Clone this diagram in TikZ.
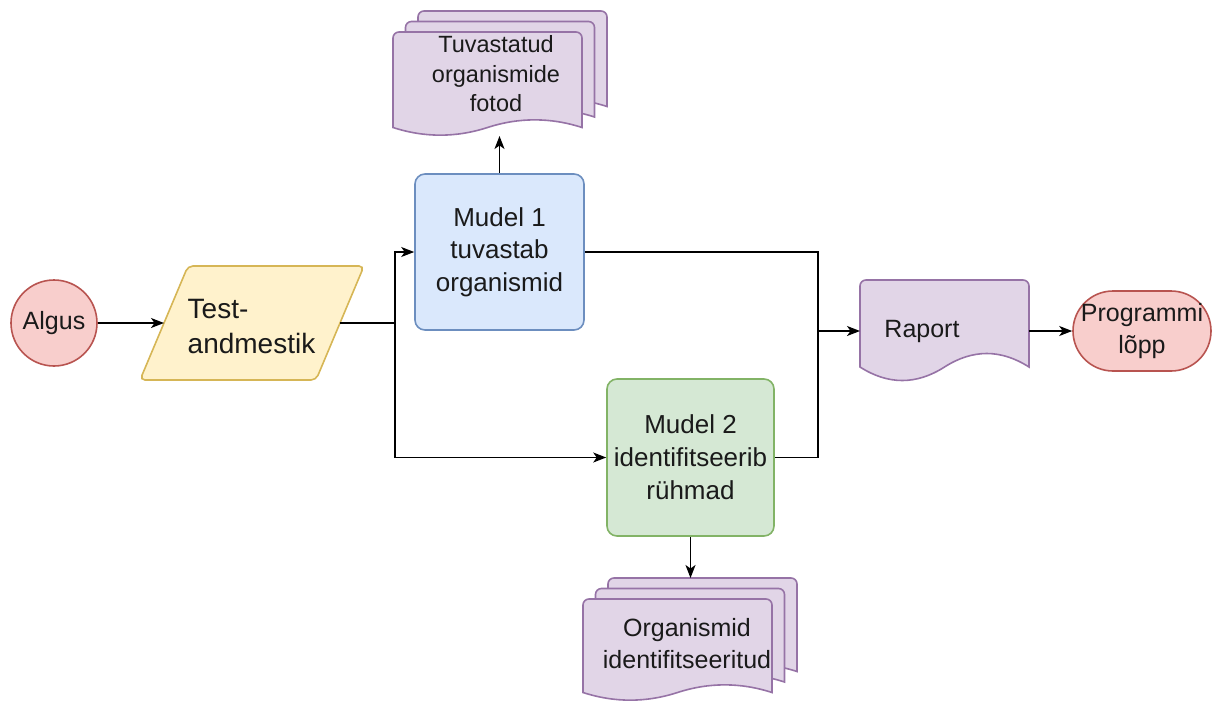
\documentclass[tikz,border=0pt]{standalone}
\usepackage{fontspec}
\setmainfont{Liberation Sans}
\usetikzlibrary{arrows.meta}
\definecolor{redF}{HTML}{F8CECC}\definecolor{redS}{HTML}{B85450}
\definecolor{yelF}{HTML}{FFF2CC}\definecolor{yelS}{HTML}{D6B656}
\definecolor{bluF}{HTML}{DAE8FC}\definecolor{bluS}{HTML}{6C8EBF}
\definecolor{grnF}{HTML}{D5E8D4}\definecolor{grnS}{HTML}{82B366}
\definecolor{purF}{HTML}{E1D5E7}\definecolor{purS}{HTML}{9673A6}
\definecolor{txt}{HTML}{1A1A1A}
\newcommand\docpath[5]{% x y w h dy
  \filldraw[purpleshape] (#1,{#2+#4-0.5*#5}) [rounded corners=6pt] -- (#1,#2) -- ({#1+#3},#2) [sharp corners] -- ({#1+#3},{#2+#4-0.5*#5})
    .. controls ({#1+5*#3/6},{#2+#4-1.1*#5}) and ({#1+2*#3/3},{#2+#4-1.1*#5}) .. ({#1+#3/2},{#2+#4-0.5*#5})
    .. controls ({#1+#3/3},{#2+#4+0.1*#5}) and ({#1+#3/6},{#2+#4+0.1*#5}) .. (#1,{#2+#4-0.5*#5}) -- cycle;}
\begin{document}
\begin{tikzpicture}[x=1pt,y=-1pt,
  shapeline/.style={line width=1.6pt},
  purpleshape/.style={shapeline,fill=purF,draw=purS},
  ghost/.style={draw=none,fill=none,inner sep=0pt,outer sep=0pt,rectangle},
  lbl/.style={text=txt,align=center,inner sep=0pt},
  conn/.style={line width=1.3pt,draw=black},
  arr/.style={conn,-{Stealth[length=13pt,width=10pt,inset=3.5pt]}},
  fs25/.style={font=\fontsize{25}{31.5}\selectfont},
]
\useasboundingbox (0,0) rectangle (1213,702);
% Algus
\node[circle,shapeline,fill=redF,draw=redS,minimum size=86pt,inner sep=0pt,text=txt,fs25] (algus) at (54,323) {Algus};
% Test-andmestik (parallelogram)
\node[ghost,minimum width=176pt,minimum height=114pt] (test) at (252,323) {};
\filldraw[shapeline,fill=yelF,draw=yelS,rounded corners=5pt]
  ([xshift=24pt]test.north west) -- ([xshift=24pt]test.north east) -- ([xshift=-24pt]test.south east) -- ([xshift=-24pt]test.south west) -- cycle;
\node[lbl,align=left,font=\fontsize{28}{35}\selectfont] (testtxt) at (251.5,326) {Test-\\andmestik};
% Mudel 1
\node[rectangle,rounded corners=10pt,shapeline,fill=bluF,draw=bluS,minimum width=169pt,minimum height=156pt,inner sep=0pt,text=txt,align=center,font=\fontsize{26}{32.5}\selectfont] (m1) at (499.5,252) {Mudel 1\\tuvastab\\organismid};
% Mudel 2
\node[rectangle,rounded corners=10pt,shapeline,fill=grnF,draw=grnS,minimum width=167pt,minimum height=157pt,inner sep=0pt,text=txt,align=center,font=\fontsize{26}{33}\selectfont] (m2) at (690.5,457.5) {Mudel 2\\identifitseerib\\rühmad};
% Raport
\node[ghost,minimum width=169pt,minimum height=102pt] (raport) at (944.5,331) {};
\docpath{860}{280}{169}{102}{30}
\node[lbl,fs25] (raporttxt) at (922,331) {Raport};
% Programmi lopp
\node[rectangle,rounded corners=40pt,shapeline,fill=redF,draw=redS,minimum width=138pt,minimum height=80pt,inner sep=0pt,text=txt,align=center,fs25] (end) at (1142,331) {Programmi\\lõpp};
% Multidoc top
\node[ghost,minimum width=214pt,minimum height=125pt] (doc1) at (499.5,73.5) {};
\docpath{418}{11}{189}{104}{17}
\docpath{405.5}{21.5}{189}{104}{17}
\docpath{393}{32}{189}{104}{17}
\node[lbl,font=\fontsize{23.5}{29.5}\selectfont] (doc1txt) at (496,74) {Tuvastatud\\organismide\\fotod};
% Multidoc bottom
\node[ghost,minimum width=214pt,minimum height=123pt] (doc2) at (690.5,639.5) {};
\docpath{608}{578}{189}{102}{17}
\docpath{595.5}{588.5}{189}{102}{17}
\docpath{583}{599}{189}{102}{17}
\node[lbl,font=\fontsize{25}{32}\selectfont] (doc2txt) at (687,644) {Organismid\\identifitseeritud};
% connectors
\coordinate (split) at (395,323);
\coordinate (merge) at (818,331);
\draw[arr] (algus.east) -- (test.west);
\draw[conn] (test.east) -- (split);
\draw[arr] (split) |- (m1.west);
\draw[arr] (split) |- (m2.west);
\draw[conn] (m1.east) -| (merge);
\draw[conn] (m2.east) -| (merge);
\draw[arr] (merge) -- (raport.west);
\draw[arr] (raport.east) -- (end.west);
\draw[arr] (m1.north) -- (doc1.south);
\draw[arr] (m2.south) -- (doc2.north);
\end{tikzpicture}
\end{document}
